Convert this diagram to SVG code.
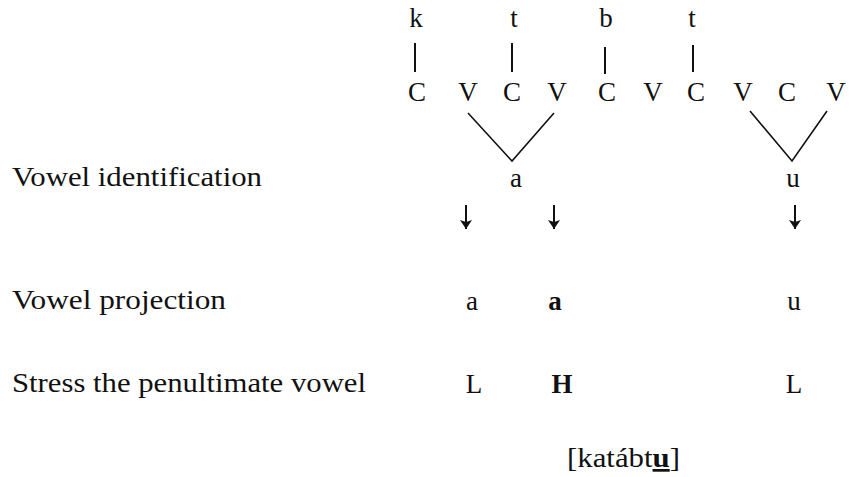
<svg xmlns="http://www.w3.org/2000/svg" width="849" height="477" viewBox="0 0 849 477">
  <style>
    text { font-family: "Liberation Serif", "Times New Roman", serif; font-size: 27px; fill: #111; }
    .c { text-anchor: middle; }
    .b { font-weight: bold; }
    .ln { stroke: #111; stroke-width: 1.6; fill: none; }
    .bar { stroke: #111; stroke-width: 2; }
    .arr { stroke: #111; stroke-width: 2; marker-end: url(#ah); }
  </style>
  <defs>
    <marker id="ah" viewBox="0 0 9 12" refX="9" refY="6" markerWidth="9" markerHeight="12" markerUnits="userSpaceOnUse" orient="auto">
      <path d="M0,0 L9,6 L0,12 L2,6 Z" fill="#111"/>
    </marker>
  </defs>
  <rect width="849" height="477" fill="#fff"/>

  <g id="row-labels">
    <text x="12" y="186" textLength="250" lengthAdjust="spacingAndGlyphs">Vowel identification</text>
    <text x="12" y="309" textLength="214" lengthAdjust="spacingAndGlyphs">Vowel projection</text>
    <text x="12" y="392" textLength="354" lengthAdjust="spacingAndGlyphs">Stress the penultimate vowel</text>
  </g>

  <g id="consonants">
    <text class="c" x="416" y="27">k</text>
    <text class="c" x="514" y="27">t</text>
    <text class="c" x="606" y="27">b</text>
    <text class="c" x="692" y="27">t</text>
  </g>

  <g id="skeleton">
    <text class="c" x="417" y="101">C</text>
    <text class="c" x="468" y="101">V</text>
    <text class="c" x="512" y="101">C</text>
    <text class="c" x="557" y="101">V</text>
    <text class="c" x="607" y="101">C</text>
    <text class="c" x="653" y="101">V</text>
    <text class="c" x="696" y="101">C</text>
    <text class="c" x="743" y="101">V</text>
    <text class="c" x="787" y="101">C</text>
    <text class="c" x="836" y="101">V</text>
  </g>

  <g id="melody">
    <text class="c" x="516" y="187">a</text>
    <text class="c" x="793" y="187">u</text>
  </g>

  <g id="projection">
    <text class="c" x="472" y="310">a</text>
    <text class="c b" x="555" y="310">a</text>
    <text class="c" x="794" y="310">u</text>
  </g>

  <g id="stress">
    <text class="c" x="474" y="393">L</text>
    <text class="c b" x="562" y="393">H</text>
    <text class="c" x="794" y="393">L</text>
  </g>

  <g id="output">
    <text x="567" y="467" textLength="113" lengthAdjust="spacingAndGlyphs">[katábt<tspan class="b" text-decoration="underline">u</tspan>]</text>
  </g>

  <g id="connectors">
    <line class="bar" x1="415" y1="43" x2="415" y2="72"/>
    <line class="bar" x1="512" y1="43" x2="512" y2="72"/>
    <line class="bar" x1="605" y1="47" x2="605" y2="74"/>
    <line class="bar" x1="693" y1="45" x2="693" y2="72"/>
    <polyline class="ln" points="468,113 512,161 554,113"/>
    <polyline class="ln" points="750,111 792,161 827,111"/>
    <line class="arr" x1="466" y1="205" x2="466" y2="229"/>
    <line class="arr" x1="554" y1="205" x2="554" y2="229"/>
    <line class="arr" x1="795" y1="205" x2="795" y2="229"/>
  </g>
</svg>
